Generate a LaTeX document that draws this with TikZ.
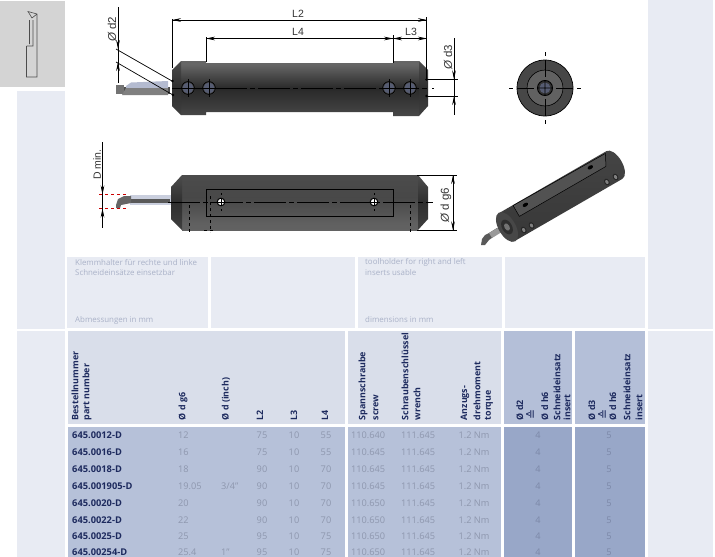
\documentclass[tikz,border=0pt]{standalone}
\usepackage{fontspec}
\setmainfont{Open Sans}
\newfontfamily\dimfont{Liberation Sans}
\newfontfamily\symfont{DejaVu Sans}
\usetikzlibrary{arrows.meta}
\definecolor{pale}{HTML}{E8EBF3}
\definecolor{headbg}{HTML}{D9DEEA}
\definecolor{bodybg}{HTML}{B6C1D9}
\definecolor{darkhead}{HTML}{B4BFD8}
\definecolor{darkbody}{HTML}{98A7C8}
\definecolor{ink}{HTML}{1D2A5E}
\definecolor{valgrey}{HTML}{8E97AE}
\definecolor{valdark}{HTML}{7C88A8}
\definecolor{notegrey}{HTML}{AAB2C8}
\definecolor{screwface}{HTML}{565C72}
\definecolor{toolblue}{HTML}{B4BBD0}
\pgfdeclareverticalshading{steel}{100bp}{color(0bp)=(black!68);color(25bp)=(black!72);color(50bp)=(black!84);color(72bp)=(black!60);color(90bp)=(black!62);color(100bp)=(black!78)}
\pgfdeclareverticalshading{steellow}{100bp}{color(0bp)=(black!60);color(30bp)=(black!62);color(55bp)=(black!72);color(80bp)=(black!70);color(94bp)=(black!60);color(100bp)=(black!68)}
\pgfdeclareverticalshading{steelend}{100bp}{color(0bp)=(black!68);color(50bp)=(black!82);color(85bp)=(black!65);color(100bp)=(black!75)}
\pgfdeclareverticalshading{isobody}{100bp}{color(0bp)=(black!80);color(50bp)=(black!76);color(100bp)=(black!70)}
\tikzset{
  part/.style={font=\bfseries\fontsize{9.3}{10}\selectfont,text=ink,anchor=west,inner sep=0pt},
  val/.style={font=\fontsize{9.2}{10}\selectfont,text=valgrey,inner sep=0pt},
  valinsert/.style={val,text=valdark},
  hdr/.style={font=\bfseries\fontsize{8.9}{10}\selectfont,text=ink,rotate=90,anchor=west,inner sep=0pt},
  note/.style={font=\fontsize{7.9}{9}\selectfont,text=notegrey,anchor=west,inner sep=0pt},
  dimtext/.style={font=\dimfont\fontsize{10.5}{12}\selectfont,text=black!80,inner sep=0pt},
  dimline/.style={line width=0.7pt,black},
  tip/.style={-{Stealth[length=9pt,width=3.6pt]},line width=0.7pt},
  center/.style={line width=0.8pt,black,dash pattern=on 32pt off 3pt on 5pt off 3pt},
  screw/.pic={
    \fill[black!72] (0,0) circle (7);
    \fill[screwface] (0,0) circle (5.4);
    \draw[black,line width=0.8pt] (0,0) circle (6.4);
    \draw[black,line width=0.7pt] (-8.5,0) -- (8.5,0) (0,-9) -- (0,9);
  }
}
\begin{document}
\begin{tikzpicture}[x=1pt,y=-1pt]
\useasboundingbox (0,0) rectangle (715,557);
\fill[white] (0,0) rectangle (715,557);
% panels
\fill[black!17] (0,1) rectangle (65,87);
\fill[pale] (17,91) rectangle (65,329);
\fill[pale] (17,331) rectangle (65,557);
\fill[pale] (648,0) rectangle (713,329);
\fill[pale] (648,331) rectangle (713,557);
\fill[pale] (67,257) rectangle (208,328);
\fill[pale] (211,257) rectangle (355,328);
\fill[pale] (358,257) rectangle (502,328);
\fill[pale] (505,257) rectangle (645,328);
\fill[headbg] (68,331) rectangle (345,424);
\fill[headbg] (348,331) rectangle (501,424);
\fill[darkhead] (504,331) rectangle (572,424);
\fill[darkhead] (575,331) rectangle (645,424);
\fill[bodybg] (68,427) rectangle (345,557);
\fill[bodybg] (348,427) rectangle (501,557);
\fill[darkbody] (504,427) rectangle (572,557);
\fill[darkbody] (575,427) rectangle (645,557);
% icon
\draw[black!70,line width=0.6pt] (26.5,46) -- (26.5,77) -- (37,77) -- (37,14) -- (28,11.5) -- (32,18) -- (37,14)
  (26.5,46) -- (33,46) -- (33,20) (29.5,20) -- (29.5,44);
% top view tool
\fill[black!70] (116,87) rectangle (170,94);
\fill[black!55] (116,84.5) rectangle (124,94);
\fill[toolblue] (126,86) -- (131,82.5) -- (168,81) -- (168,88) -- (126,88) -- cycle;
\fill[black!50] (126,88) -- (168,88) -- (168,95) -- (122,95) -- cycle;
% top view body
\shade[shading=steel] (181,61) -- (206,61) -- (206,63) -- (393,63) -- (393,61) -- (419,61) -- (419,116) -- (393,116) -- (393,112) -- (206,112) -- (206,115) -- (181,115) -- cycle;
\shade[shading=steelend] (181,61) -- (172,70) -- (172,106) -- (181,115) -- cycle;
\shade[shading=steelend] (419,61) -- (428,70) -- (428,106) -- (419,116) -- cycle;
\draw[center] (172,88) -- (428,88);
\fill[black] (432,87.5) rectangle (434,88.5);
\foreach \x in {188,209,389,410} \pic at (\x,88) {screw};
% top dimensions
\draw[dimline] (172,20) -- (427,20);
\draw[dimline] (172,19) -- (172,68);
\draw[dimline] (426.7,17) -- (426.7,79);
\draw[dimline] (206,37) -- (206,62);
\draw[dimline] (393,35) -- (393,63);
\draw[dimline] (206,38.5) -- (427,38.5);
\draw[tip] (182,20) -- (172,20);
\draw[tip] (417,20) -- (427,20);
\draw[tip] (216,38.5) -- (206,38.5);
\draw[tip] (384,38.5) -- (393,38.5);
\draw[tip] (402,38.5) -- (393,38.5);
\draw[tip] (417,38.5) -- (427,38.5);
\node[dimtext] (lblLtwo) at (298,14) {L2};
\node[dimtext] (lblLfour) at (298,32) {L4};
\node[dimtext] (lblLthree) at (411,32) {L3};
% d2
\draw[dimline] (118,7) -- (118,83);
\draw[tip] (118,38) -- (118,49);
\draw[tip] (118,73) -- (118,62);
\draw[dimline] (116,49) -- (172,81);
\draw[dimline] (116,62) -- (173,95);
\fill (172.5,81) circle (1.3) (173,95) circle (1.3);
\node[dimtext,rotate=90,anchor=west,font=\dimfont\fontsize{11.5}{12}\selectfont] (lblDtwo) at (112,42) {\itshape Ø\upshape\ d2};
% d3
\draw[dimline] (454,38) -- (454,115);
\draw[dimline] (426,79.5) -- (458,79.5);
\draw[dimline] (426,96) -- (458,96);
\fill (426.5,79.5) circle (1.3) (426.5,96) circle (1.3);
\draw[tip] (454,69) -- (454,79.5);
\draw[tip] (454,106) -- (454,96);
\node[dimtext,rotate=90,anchor=west,font=\dimfont\fontsize{11.5}{12}\selectfont] (lblDthree) at (448,70) {\itshape Ø\upshape\ d3};
% front circle
\fill[black!72] (545,88) circle (28);
\fill[black!62] (545,88) circle (18.5);
\draw[black,line width=0.7pt] (545,88) circle (28) (545,88) circle (18);
\fill[black!80] (545,88) circle (8);
\fill[screwface] (545,88) circle (5.5);
\draw[black,line width=0.8pt] (545,88) circle (7.5) (538,88) -- (552,88) (545,81) -- (545,95);
\draw[line width=0.8pt] (509,88) -- (513,88) (517,88) -- (534,88) (556,88) -- (573,88) (577,88) -- (581,88)
  (545,52) -- (545,56) (545,60) -- (545,77) (545,99) -- (545,116) (545,120) -- (545,124);
% lower view tool
\fill[toolblue!70] (130,195) rectangle (171,205);
\fill[black!65] (130,198.5) rectangle (170,202.5);
\fill[black!60] (116,205) -- (118,199) -- (124,196) -- (131,196) -- (131,203) -- (121,205) -- (120,208) -- (116,208) -- cycle;
% lower view body
\shade[shading=steellow] (182,175) -- (418,175) -- (418,230) -- (182,230) -- cycle;
\shade[shading=steelend] (182,175) -- (171,187) -- (171,219) -- (182,230) -- cycle;
\shade[shading=steelend] (418,175) -- (428,187) -- (428,219) -- (418,230) -- cycle;
\draw[black,line width=0.8pt,fill=black!70,fill opacity=0.25] (206,189) rectangle (393,216);
\draw[center] (168,202) -- (433,202);
\draw[dimline,dashed] (189,205) -- (189,232) (210,196) -- (210,232) (410,205) -- (410,232);
\draw[dimline,dashed] (204,230) -- (216,230);
\foreach \x in {221,374} {
  \fill[white] (\x,202) circle (3.6);
  \draw[black,line width=1pt] (\x,202) circle (3.8);
  \draw[black,line width=0.6pt] (\x-3.6,202) -- (\x+3.6,202) (\x,198.4) -- (\x,205.6);
  \draw[black,line width=0.6pt] (\x,193) -- (\x,195) (\x,209) -- (\x,211);
}
% d min
\draw[red!80!black,dashed,line width=0.7pt] (99,194.5) -- (129,194.5) (99,208.5) -- (129,208.5);
\draw[dimline] (102.5,142) -- (102.5,228);
\draw[tip] (102.5,185) -- (102.5,194.5);
\draw[tip] (102.5,218) -- (102.5,208.5);
\node[dimtext,rotate=90,anchor=west] (lblDmin) at (97,180) {D min.};
% d g6
\draw[dimline] (417,175) -- (457,175) (417,230.5) -- (457,230.5);
\draw[dimline] (453,175) -- (453,230.5);
\draw[tip] (453,186) -- (453,175);
\draw[tip] (453,219) -- (453,230.5);
\node[dimtext,rotate=90,anchor=west,font=\dimfont\fontsize{11.5}{12}\selectfont] (lblDg) at (446,222.5) {\itshape Ø\upshape\ d g6};
% iso view
\fill[black!65] (482,239) -- (485,235) -- (489,233) -- (497,228) -- (500,232) -- (489,240) -- (485,245) -- (481,245) -- cycle;
\fill[black!40] (489,233) -- (506,223) -- (510,227) -- (492,238) -- cycle;
\begin{scope}[shift={(507,227)},rotate=30]
  \shade[shading=isobody] (0,-16) -- (124,-16) arc[start angle=-90,end angle=90,x radius=8,y radius=16] -- (0,16) arc[start angle=90,end angle=270,x radius=8,y radius=16] -- cycle;
  \fill[black!72] (0,0) ellipse (8.5 and 16.5);
  \fill[black!82] (0,0) ellipse (5 and 8);
  \fill[black!55] (0,0) ellipse (2.5 and 4);
  \draw[black,line width=0.5pt,fill=black!68] (16,-3) -- (116,-3) -- (122,-14.5) -- (16,-15.5) -- cycle;
  \foreach \x in {27,102} \fill[black] (\x,-10) ellipse (3 and 1.8);
  \foreach \x in {13,22,109,119} {
    \fill[black!85] (\x,11) ellipse (2.6 and 3.6);
    \fill[black!50] (\x,11) ellipse (1.5 and 2.2);
  }
\end{scope}
% notes
\node[note] (noteDeA) at (75,262.5) {Klemmhalter für rechte und linke};
\node[note] (noteDeB) at (75,272.5) {Schneideinsätze einsetzbar};
\node[note] (noteDeC) at (75,320) {Abmessungen in mm};
\node[note] (noteEnA) at (365,262.5) {toolholder for right and left};
\node[note] (noteEnB) at (365,272.5) {inserts usable};
\node[note] (noteEnC) at (365,320) {dimensions in mm};
% headers
\foreach \nm/\x/\t in {a/75/Bestellnummer,b/87/part number,c/183/Ø d g6,d/226/Ø d (inch),e/260/L2,f/294/L3,g/325/L4,
  h/363/Spannschraube,i/376/screw,j/405/Schraubenschlüssel,k/417/wrench,l/465/Anzugs-,m/477/drehmoment,n/489/torque,
  o/520/Ø d2,q/545/Ø d h6,r/557/Schneideinsatz,s/567/insert,
  t/592/Ø d3,v/613/Ø d h6,w/627/Schneideinsatz,y/639/insert}
  \node[hdr] (hd\nm) at (\x,420.5) {\t};
\node[hdr,font=\symfont\fontsize{12}{12}\selectfont] (hdp) at (531,420) {≙};
\node[hdr,font=\symfont\fontsize{12}{12}\selectfont] (hdu) at (603,420) {≙};
% rows
\foreach \yy/\pn/\dg/\di/\la/\lb/\lc/\sc in {
  435/645.0012-D/12//75/10/55/110.640,
  452/645.0016-D/16//75/10/55/110.645,
  469/645.0018-D/18//90/10/70/110.645,
  486/645.001905-D/19.05/3\slash 4"/90/10/70/110.645,
  503/645.0020-D/20//90/10/70/110.650,
  520/645.0022-D/22//90/10/70/110.650,
  536.5/645.0025-D/25//95/10/75/110.650,
  552.5/645.00254-D/25.4/1"/95/10/75/110.650}
{
  \node[part] (pn\yy) at (72,\yy) {\pn};
  \node[val,anchor=west] (dg\yy) at (178,\yy) {\dg};
  \node[val,anchor=west] (di\yy) at (221,\yy) {\di};
  \node[val] (la\yy) at (262,\yy) {\la};
  \node[val] (lb\yy) at (294,\yy) {\lb};
  \node[val] (lc\yy) at (326,\yy) {\lc};
  \node[val,anchor=west] (sc\yy) at (351,\yy) {\sc};
  \node[val,anchor=west] (wr\yy) at (401,\yy) {111.645};
  \node[val] (tq\yy) at (474,\yy) {1.2 Nm};
  \node[valinsert] (da\yy) at (538,\yy) {4};
  \node[valinsert] (db\yy) at (609,\yy) {5};
}
\end{tikzpicture}
\end{document}
